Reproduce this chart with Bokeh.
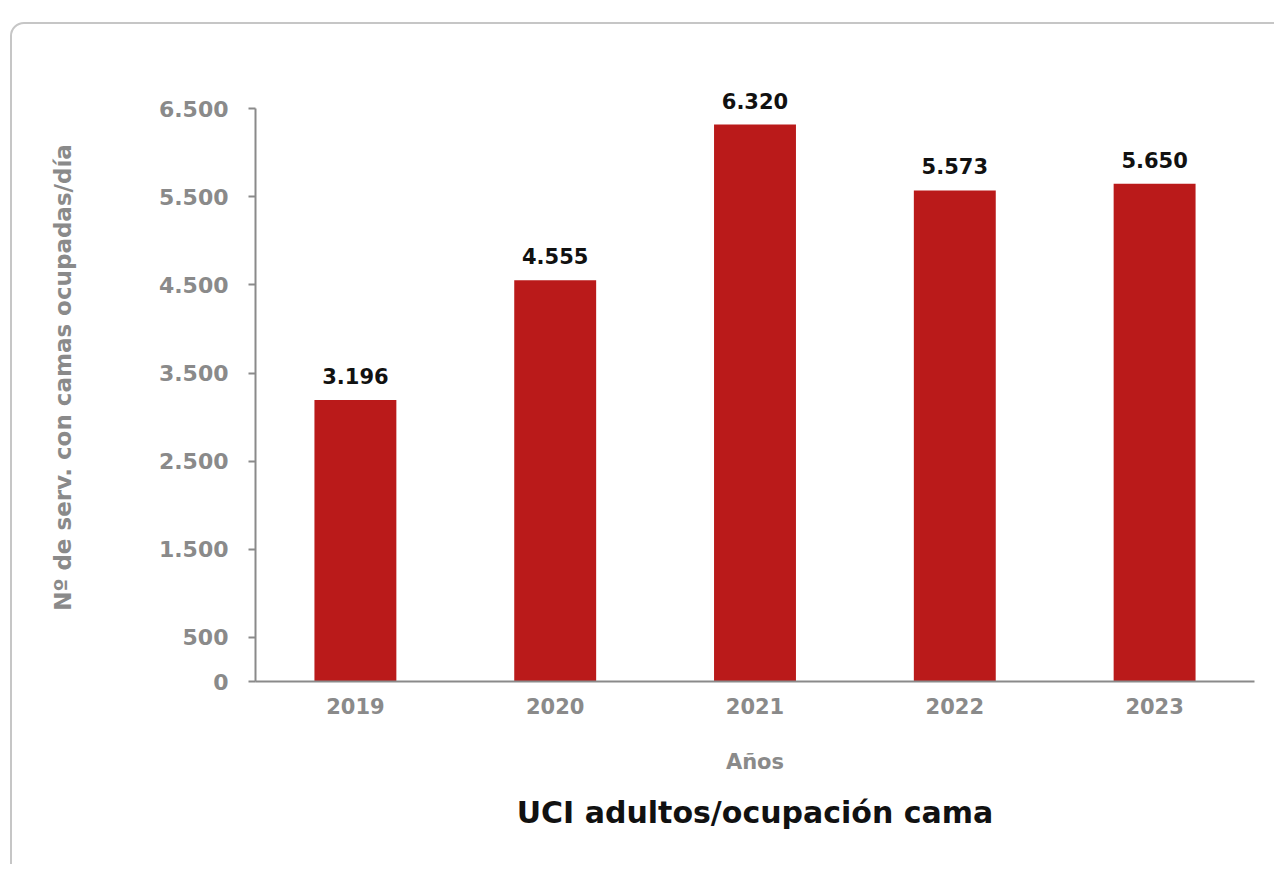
from bokeh.plotting import figure
from bokeh.models import Range1d, FixedTicker, Title, ColumnDataSource, LabelSet, InlineStyleSheet
from bokeh.core.properties import value
from bokeh.embed import file_html
from bokeh.resources import INLINE

# ---- data ----
years = ["2019", "2020", "2021", "2022", "2023"]
values = [3196, 4555, 6320, 5573, 5650]
value_labels = ["3.196", "4.555", "6.320", "5.573", "5.650"]
y_ticks = [0, 500, 1500, 2500, 3500, 4500, 5500, 6500]
y_tick_labels = ["0", "500", "1.500", "2.500", "3.500", "4.500", "5.500", "6.500"]

FONT = "DejaVu Sans"
GRAY = "#8a8a8a"
RED = "#BA1A1A"

p = figure(
    width=1274, height=864,
    x_range=years, y_range=Range1d(0, 6900),
    output_backend="svg", toolbar_location=None,
    min_border_left=255, min_border_right=20,
    min_border_top=73, min_border_bottom=183,
)
p.outline_line_color = None
p.grid.grid_line_color = None
p.background_fill_color = "white"
p.border_fill_color = "white"

src = ColumnDataSource(dict(x=years, top=values, lab=value_labels))
p.vbar(x="x", top="top", width=0.41, source=src, color=RED, line_color=None)

labels = LabelSet(x="x", y="top", text="lab", source=src, text_align="center",
                  text_baseline="alphabetic", y_offset=16, text_font=value(FONT),
                  text_font_style="bold", text_font_size="21px", text_color="#111111")
p.add_layout(labels)

# y axis
ya = p.yaxis[0]
ya.ticker = FixedTicker(ticks=y_ticks)
ya.bounds = (0, 6500)
ya.major_label_overrides = {t: l for t, l in zip(y_ticks, y_tick_labels)}
ya.minor_tick_line_color = None
ya.major_tick_in = 0
ya.major_tick_out = 7
ya.axis_line_color = GRAY
ya.major_tick_line_color = GRAY
ya.axis_line_width = 2
ya.major_tick_line_width = 2
ya.major_label_text_font = FONT
ya.major_label_text_font_style = "bold"
ya.major_label_text_font_size = "22px"
ya.major_label_text_color = GRAY
ya.major_label_standoff = 20
ya.axis_label = "Nº de serv. con camas ocupadas/día"
ya.axis_label_text_font = FONT
ya.axis_label_text_font_style = "bold"
ya.axis_label_text_font_size = "23px"
ya.axis_label_text_color = GRAY
ya.axis_label_standoff = 80

# x axis
xa = p.xaxis[0]
xa.major_tick_line_color = None
xa.minor_tick_line_color = None
xa.major_tick_out = 0
xa.axis_line_color = GRAY
xa.axis_line_width = 2
xa.major_label_text_font = FONT
xa.major_label_text_font_style = "bold"
xa.major_label_text_font_size = "21px"
xa.major_label_text_color = GRAY
xa.major_label_standoff = 16
xa.axis_label = "Años"
xa.axis_label_text_font = FONT
xa.axis_label_text_font_style = "bold"
xa.axis_label_text_font_size = "21px"
xa.axis_label_text_color = GRAY
xa.axis_label_standoff = 33

title = Title(text="UCI adultos/ocupación cama", align="center", text_font=FONT,
              text_font_style="bold", text_font_size="30px", text_color="#111111",
              standoff=33)
p.add_layout(title, "below")

# rounded card outline around the chart (decoration only)
card = InlineStyleSheet(css="""
:host { position: relative; overflow: hidden; }
:host::before {
  content: "";
  position: absolute;
  left: 10px; top: 22px;
  width: 1400px; height: 1000px;
  border: 2px solid #c6c6c6;
  border-radius: 14px;
  box-sizing: border-box;
  pointer-events: none;
  z-index: 10;
}
""")
p.stylesheets = [card]

open("out.html", "w").write(file_html(p, INLINE))
